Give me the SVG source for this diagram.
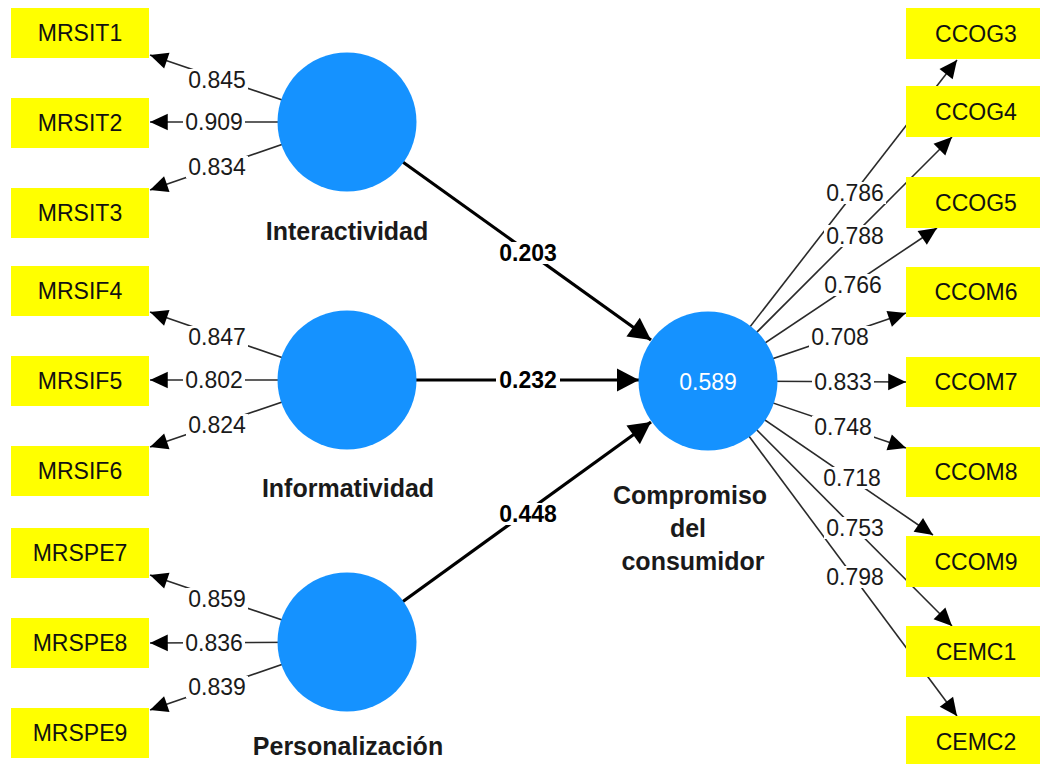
<svg xmlns="http://www.w3.org/2000/svg" width="1040" height="764" viewBox="0 0 1040 764">
  <defs>
    <marker id="arrowSmall" markerUnits="userSpaceOnUse" markerWidth="20" markerHeight="20" viewBox="-17 -9 18 18" refX="0" refY="0" orient="auto">
      <path d="M0,0 L-16,-7.5 L-16,7.5 Z" fill="#000"/>
    </marker>
    <marker id="arrowBig" markerUnits="userSpaceOnUse" markerWidth="26" markerHeight="26" viewBox="-23 -13 24 26" refX="0" refY="0" orient="auto">
      <path d="M0,0 L-22,-11.5 L-22,11.5 Z" fill="#000"/>
    </marker>
  </defs>
  <style>
    .ind rect { fill: #ffff00; }
    .ind text { font-family: "Liberation Sans", Arial, sans-serif; font-size: 23px; fill: #111; text-anchor: middle; }
    .lv circle { fill: #1592ff; }
    .lvname { font-family: "Liberation Sans", Arial, sans-serif; font-size: 25px; font-weight: bold; fill: #1a1a1a; text-anchor: middle; }
    .r2 { font-family: "Liberation Sans", Arial, sans-serif; font-size: 23px; fill: #fff; text-anchor: middle; }
    .load { stroke: #2a2a2a; stroke-width: 1.6; fill: none; marker-end: url(#arrowSmall); }
    .path { stroke: #000; stroke-width: 3.2; fill: none; marker-end: url(#arrowBig); }
    .lbl rect { fill: #fff; }
    .lbl text { font-family: "Liberation Sans", Arial, sans-serif; font-size: 23px; fill: #1a1a1a; text-anchor: middle; }
    .plbl text { font-weight: bold; fill: #000; }
  </style>
  <rect width="1040" height="764" fill="#fff"/>

  <g id="connectors">
    <!-- outer loadings: Interactividad -->
    <line class="load" x1="347" y1="122" x2="150" y2="55"/>
    <line class="load" x1="347" y1="122" x2="150" y2="122"/>
    <line class="load" x1="347" y1="122" x2="150" y2="190"/>
    <!-- outer loadings: Informatividad -->
    <line class="load" x1="347" y1="380" x2="150" y2="312"/>
    <line class="load" x1="347" y1="380" x2="150" y2="380"/>
    <line class="load" x1="347" y1="380" x2="150" y2="447"/>
    <!-- outer loadings: Personalización -->
    <line class="load" x1="347" y1="642" x2="150" y2="575"/>
    <line class="load" x1="347" y1="642" x2="150" y2="643"/>
    <line class="load" x1="347" y1="642" x2="150" y2="710"/>
    <!-- outer loadings: Compromiso del consumidor -->
    <line class="load" x1="708" y1="381" x2="957" y2="60"/>
    <line class="load" x1="708" y1="381" x2="952" y2="137"/>
    <line class="load" x1="708" y1="381" x2="937" y2="228"/>
    <line class="load" x1="708" y1="381" x2="906" y2="313"/>
    <line class="load" x1="708" y1="381" x2="906" y2="382"/>
    <line class="load" x1="708" y1="381" x2="906" y2="448"/>
    <line class="load" x1="708" y1="381" x2="933" y2="535"/>
    <line class="load" x1="708" y1="381" x2="952" y2="626"/>
    <line class="load" x1="708" y1="381" x2="957" y2="716"/>
    <!-- structural paths -->
    <line class="path" x1="347" y1="122" x2="651" y2="340"/>
    <line class="path" x1="347" y1="380" x2="639" y2="380"/>
    <line class="path" x1="347" y1="642" x2="651" y2="422"/>

    <!-- loading values -->
    <g class="lbl">
      <rect x="186" y="69" width="62" height="22"/><text x="217" y="88">0.845</text>
      <rect x="183" y="111" width="62" height="22"/><text x="214" y="130">0.909</text>
      <rect x="186" y="156" width="62" height="22"/><text x="217" y="175">0.834</text>

      <rect x="186" y="326" width="62" height="22"/><text x="217" y="345">0.847</text>
      <rect x="183" y="369" width="62" height="22"/><text x="214" y="388">0.802</text>
      <rect x="186" y="414" width="62" height="22"/><text x="217" y="433">0.824</text>

      <rect x="186" y="588" width="62" height="22"/><text x="217" y="607">0.859</text>
      <rect x="183" y="632" width="62" height="22"/><text x="214" y="651">0.836</text>
      <rect x="186" y="676" width="62" height="22"/><text x="217" y="695">0.839</text>

      <rect x="824" y="182" width="62" height="22"/><text x="855" y="201">0.786</text>
      <rect x="824" y="225" width="62" height="22"/><text x="855" y="244">0.788</text>
      <rect x="822" y="274" width="62" height="22"/><text x="853" y="293">0.766</text>
      <rect x="809" y="326" width="62" height="22"/><text x="840" y="345">0.708</text>
      <rect x="812" y="371" width="62" height="22"/><text x="843" y="390">0.833</text>
      <rect x="812" y="416" width="62" height="22"/><text x="843" y="435">0.748</text>
      <rect x="821" y="467" width="62" height="22"/><text x="852" y="486">0.718</text>
      <rect x="824" y="517" width="62" height="22"/><text x="855" y="536">0.753</text>
      <rect x="824" y="566" width="62" height="22"/><text x="855" y="585">0.798</text>
    </g>
    <!-- path coefficients -->
    <g class="lbl plbl">
      <rect x="496" y="242" width="64" height="22"/><text x="528" y="261">0.203</text>
      <rect x="496" y="369" width="64" height="22"/><text x="528" y="388">0.232</text>
      <rect x="496" y="503" width="64" height="22"/><text x="528" y="522">0.448</text>
    </g>
  </g>

  <!-- latent variables -->
  <g id="Interactividad" class="lv">
    <circle cx="347" cy="122" r="69.5"/>
    <text class="lvname" x="347" y="240">Interactividad</text>
  </g>
  <g id="Informatividad" class="lv">
    <circle cx="347" cy="380" r="69.5"/>
    <text class="lvname" x="348" y="497">Informatividad</text>
  </g>
  <g id="Personalizacion" class="lv">
    <circle cx="347" cy="642" r="69.5"/>
    <text class="lvname" x="348" y="755">Personalización</text>
  </g>
  <g id="Compromiso" class="lv">
    <circle cx="708" cy="381" r="69.5"/>
    <text class="r2" x="708" y="390">0.589</text>
    <text class="lvname" x="690" y="504">Compromiso</text>
    <text class="lvname" x="688" y="537">del</text>
    <text class="lvname" x="693" y="570">consumidor</text>
  </g>

  <!-- indicators -->
  <g id="MRSIT1" class="ind"><rect x="11" y="8" width="138" height="50"/><text x="80" y="41">MRSIT1</text></g>
  <g id="MRSIT2" class="ind"><rect x="11" y="98" width="138" height="50"/><text x="80" y="131">MRSIT2</text></g>
  <g id="MRSIT3" class="ind"><rect x="11" y="188" width="138" height="50"/><text x="80" y="221">MRSIT3</text></g>
  <g id="MRSIF4" class="ind"><rect x="11" y="266" width="138" height="50"/><text x="80" y="299">MRSIF4</text></g>
  <g id="MRSIF5" class="ind"><rect x="11" y="356" width="138" height="50"/><text x="80" y="389">MRSIF5</text></g>
  <g id="MRSIF6" class="ind"><rect x="11" y="446" width="138" height="50"/><text x="80" y="479">MRSIF6</text></g>
  <g id="MRSPE7" class="ind"><rect x="11" y="528" width="138" height="50"/><text x="80" y="561">MRSPE7</text></g>
  <g id="MRSPE8" class="ind"><rect x="11" y="618" width="138" height="50"/><text x="80" y="651">MRSPE8</text></g>
  <g id="MRSPE9" class="ind"><rect x="11" y="708" width="138" height="50"/><text x="80" y="741">MRSPE9</text></g>

  <g id="CCOG3" class="ind"><rect x="906" y="8" width="140" height="51"/><text x="976" y="42">CCOG3</text></g>
  <g id="CCOG4" class="ind"><rect x="906" y="86" width="140" height="51"/><text x="976" y="120">CCOG4</text></g>
  <g id="CCOG5" class="ind"><rect x="906" y="177" width="140" height="51"/><text x="976" y="211">CCOG5</text></g>
  <g id="CCOM6" class="ind"><rect x="906" y="267" width="140" height="50"/><text x="976" y="300">CCOM6</text></g>
  <g id="CCOM7" class="ind"><rect x="906" y="357" width="140" height="50"/><text x="976" y="390">CCOM7</text></g>
  <g id="CCOM8" class="ind"><rect x="906" y="447" width="140" height="50"/><text x="976" y="480">CCOM8</text></g>
  <g id="CCOM9" class="ind"><rect x="906" y="536" width="140" height="51"/><text x="976" y="570">CCOM9</text></g>
  <g id="CEMC1" class="ind"><rect x="906" y="626" width="140" height="51"/><text x="976" y="660">CEMC1</text></g>
  <g id="CEMC2" class="ind"><rect x="906" y="716" width="140" height="51"/><text x="976" y="750">CEMC2</text></g>
</svg>
